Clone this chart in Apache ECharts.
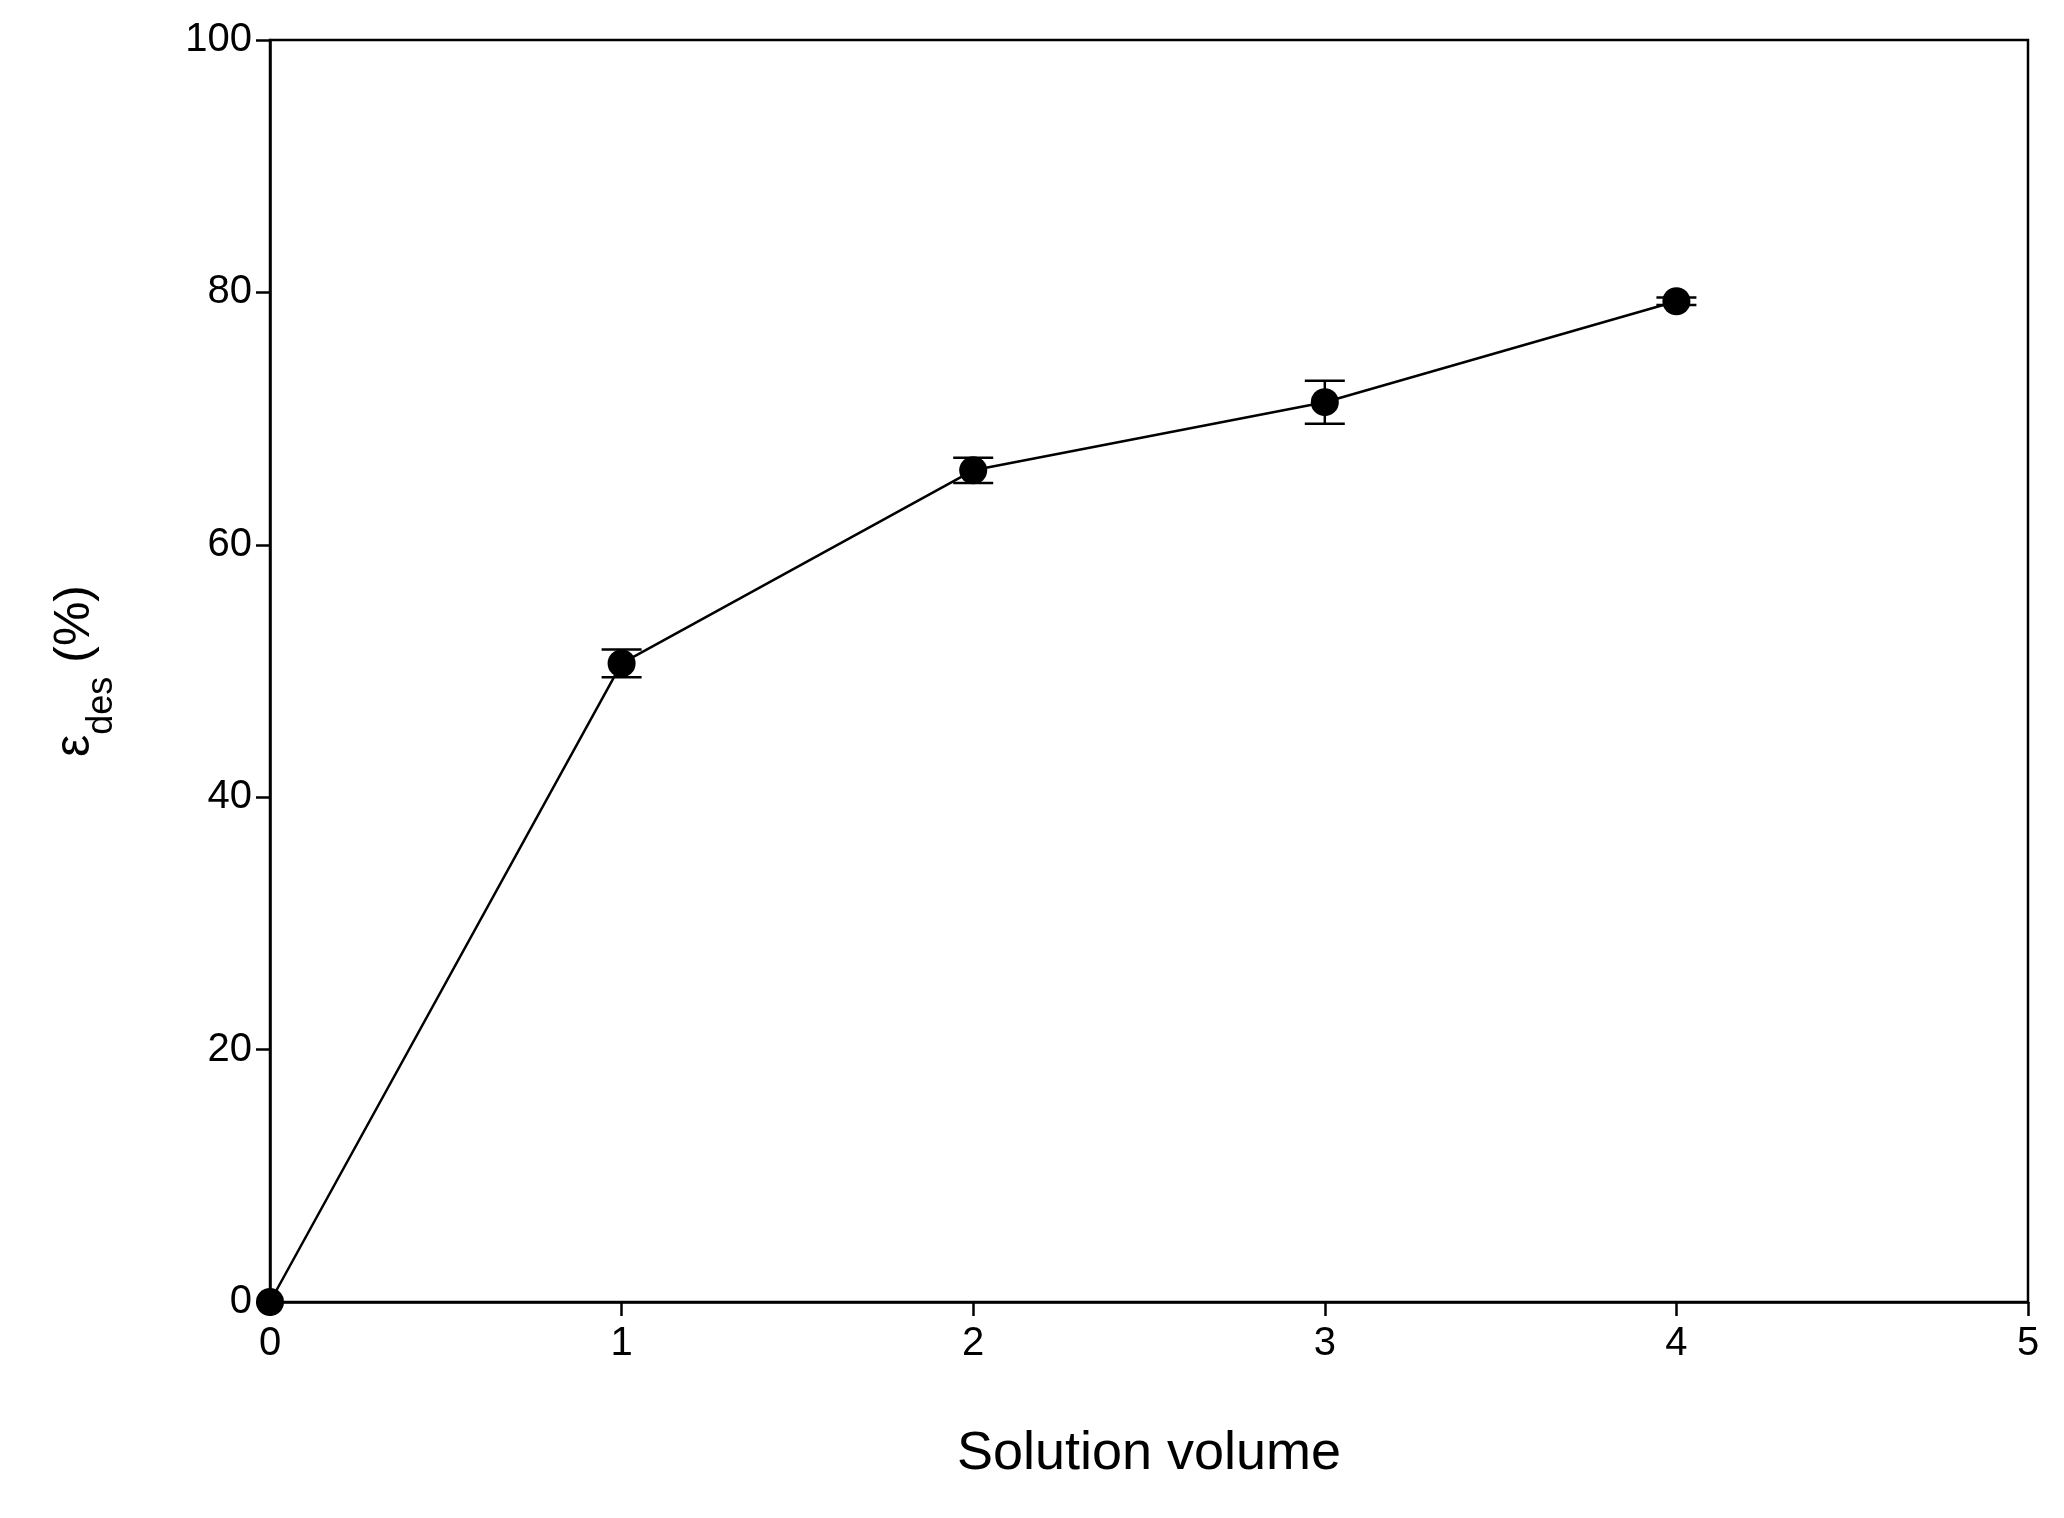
<!DOCTYPE html>
<html><head><meta charset="utf-8">
<script src="https://cdn.jsdelivr.net/npm/echarts@6/dist/echarts.min.js"></script>
<style>html,body{margin:0;padding:0;background:#fff}#c{width:2064px;height:1518px}</style>
</head><body><div id="c"></div>
<script>
const xValues = [0, 1, 2, 3, 4];
const yValues = [0, 50.6, 65.9, 71.3, 79.3];
const yErrors = [0, 1.1, 1.0, 1.7, 0.3];
const chart = echarts.init(document.getElementById('c'));
const font = 'Liberation Sans, Arial, sans-serif';
chart.setOption({
  animation: false,
  backgroundColor: '#fff',
  grid: {left: 270, right: 36, top: 40, bottom: 216, show: true, borderColor: '#000', borderWidth: 2.5},
  xAxis: {type: 'value', min: 0, max: 5, interval: 1,
    name: 'Solution volume', nameLocation: 'middle', nameGap: 125,
    nameTextStyle: {fontSize: 54, fontFamily: font, color: '#000'},
    axisLine: {onZero: false, lineStyle: {color: '#000', width: 2.5}},
    axisTick: {length: 14, lineStyle: {color: '#000', width: 2.5}},
    axisLabel: {fontSize: 40, fontFamily: font, color: '#000', margin: 22},
    splitLine: {show: false}},
  yAxis: {type: 'value', min: 0, max: 100, interval: 20,
    name: '{e|ε}{s|des}{e| (%)}', nameLocation: 'middle', nameGap: 170,
    nameTextStyle: {rich: {e: {fontSize: 50, fontFamily: font, color: '#000'}, s: {fontSize: 36, fontFamily: font, color: '#000', verticalAlign: 'bottom', padding: [0,0,-20,0]}}},
    axisLine: {lineStyle: {color: '#000', width: 2.5}},
    axisTick: {length: 14, lineStyle: {color: '#000', width: 2.5}},
    axisLabel: {fontSize: 40, fontFamily: font, color: '#000', margin: 18},
    splitLine: {show: false}},
  series: [
    {type: 'line', data: xValues.map((x, i) => [x, yValues[i]]), symbol: 'circle', symbolSize: 28,
      lineStyle: {color: '#000', width: 2.5}, itemStyle: {color: '#000'}, z: 3},
    {type: 'custom', z: 4,
      data: xValues.map((x, i) => [x, yValues[i] - yErrors[i], yValues[i] + yErrors[i]]),
      renderItem: function (params, api) {
        if (api.value(2) - api.value(1) < 0.01) return null;
        const lo = api.coord([api.value(0), api.value(1)]);
        const hi = api.coord([api.value(0), api.value(2)]);
        const w = 20;
        const st = {stroke: '#000', lineWidth: 2.5};
        return {type: 'group', children: [
          {type: 'line', shape: {x1: lo[0], y1: lo[1], x2: hi[0], y2: hi[1]}, style: st},
          {type: 'line', shape: {x1: lo[0]-w, y1: lo[1], x2: lo[0]+w, y2: lo[1]}, style: st},
          {type: 'line', shape: {x1: hi[0]-w, y1: hi[1], x2: hi[0]+w, y2: hi[1]}, style: st}
        ]};
      }}
  ]
});
</script></body></html>
